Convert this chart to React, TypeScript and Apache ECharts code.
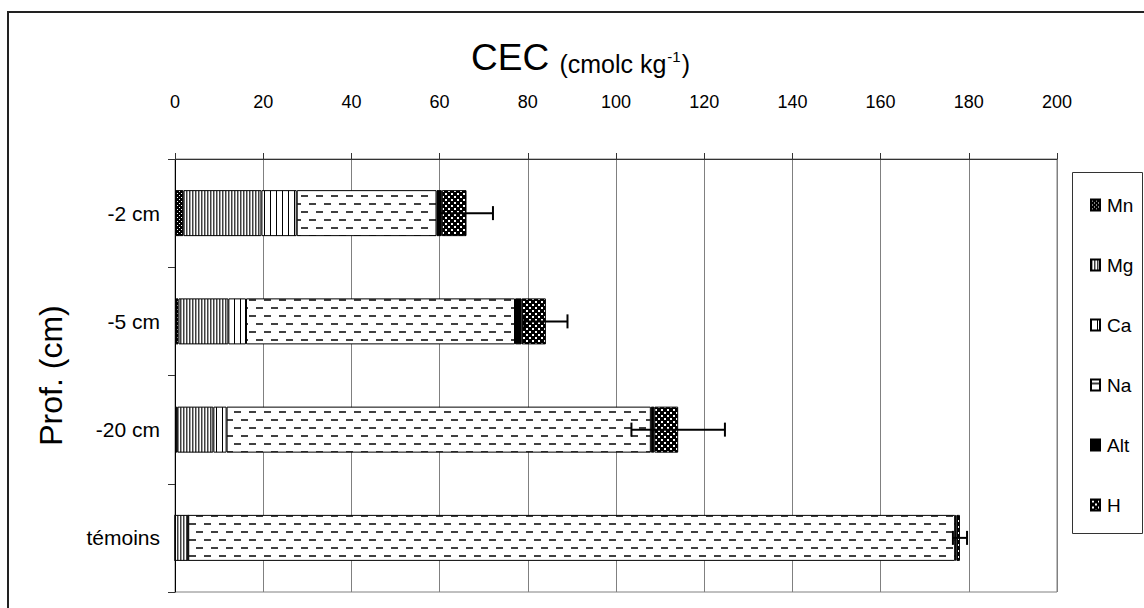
import React, { useEffect, useRef } from 'react';
import * as echarts from 'echarts';

const categories = ['-2 cm', '-5 cm', '-20 cm', 'témoins'];
const seriesNames = ['Mn', 'Mg', 'Ca', 'Na', 'Alt', 'H'];
const mnValues = [1.9, 0.8, 0.5, 0];
const mgValues = [17.7, 11.3, 8.2, 3.0];
const caValues = [8.0, 4.0, 3.0, 0];
const naValues = [31.7, 61.0, 96.2, 173.9];
const altValues = [1.2, 1.5, 0.8, 0.3];
const hValues = [5.6, 5.5, 5.4, 0.8];
const errValues = [6.0, 4.9, 10.6, 1.6];
const xMin = 0;
const xMax = 200;
const xInterval = 20;

const FONT = "'Liberation Sans', Arial, sans-serif";

function makePattern(w: number, h: number, draw: (ctx: CanvasRenderingContext2D) => void) {
  const c = document.createElement('canvas');
  c.width = w;
  c.height = h;
  const ctx = c.getContext('2d') as CanvasRenderingContext2D;
  draw(ctx);
  return { image: c.toDataURL(), repeat: 'repeat', imageWidth: w, imageHeight: h } as any;
}

export default function App() {
  const ref = useRef<HTMLDivElement>(null);

  useEffect(() => {
    if (!ref.current) return;
    const chart = echarts.init(ref.current, undefined, { renderer: 'svg' });

    const mnPat = makePattern(4, 4, (ctx) => {
      ctx.fillStyle = '#000';
      ctx.fillRect(0, 0, 4, 4);
      ctx.fillStyle = '#fff';
      ctx.fillRect(1, 1, 1, 1);
      ctx.fillRect(3, 3, 1, 1);
    });
    const mgPat = makePattern(3, 2, (ctx) => {
      ctx.fillStyle = '#404040';
      ctx.fillRect(0, 0, 1, 2);
      ctx.fillStyle = '#a0a0a0';
      ctx.fillRect(1, 0, 1, 2);
      ctx.fillStyle = '#fff';
      ctx.fillRect(2, 0, 1, 2);
    });
    const caPat = makePattern(6, 2, (ctx) => {
      ctx.fillStyle = '#fff';
      ctx.fillRect(0, 0, 6, 2);
      ctx.fillStyle = '#000';
      ctx.fillRect(0, 0, 1, 2);
    });
    const naPat = makePattern(15, 16, (ctx) => {
      ctx.fillStyle = '#fff';
      ctx.fillRect(0, 0, 15, 16);
      ctx.fillStyle = '#404040';
      ctx.fillRect(1, 3, 7, 2);
      ctx.fillRect(9, 11, 6, 2);
      ctx.fillRect(0, 11, 1, 2);
    });
    const hPat = makePattern(6, 6, (ctx) => {
      ctx.fillStyle = '#000';
      ctx.fillRect(0, 0, 6, 6);
      ctx.fillStyle = '#fff';
      ctx.fillRect(1, 1, 2, 2);
      ctx.fillRect(4, 4, 2, 2);
    });

    const colors = [mnPat, mgPat, caPat, naPat, '#000', hPat];
    const valueSets = [mnValues, mgValues, caValues, naValues, altValues, hValues];

    const totals = categories.map((_, i) => valueSets.reduce((s, arr) => s + arr[i], 0));
    const errData = categories.map((_, i) => [i, totals[i] - errValues[i], totals[i] + errValues[i]]);

    const barSeries = seriesNames.map((name, k) => ({
      name,
      type: 'bar',
      stack: 'cec',
      barWidth: 46,
      data: valueSets[k],
      itemStyle: { color: colors[k], borderColor: '#000', borderWidth: 1 },
      emphasis: { disabled: true },
    }));

    chart.setOption({
      animation: false,
      backgroundColor: '#fff',
      title: {
        left: 471,
        top: 36,
        padding: 0,
        text: '{a|CEC }{b|(cmolc kg}{s|-1}{b|)}',
        textStyle: {
          fontWeight: 'normal',
          rich: {
            a: { fontFamily: FONT, fontSize: 37, fontWeight: 'normal', color: '#000', lineHeight: 40, verticalAlign: 'bottom' },
            b: { fontFamily: FONT, fontSize: 25, fontWeight: 'normal', color: '#000', lineHeight: 31, verticalAlign: 'bottom' },
            s: { fontFamily: FONT, fontSize: 15, fontWeight: 'normal', color: '#000', lineHeight: 40, verticalAlign: 'middle', padding: [0, 1, 0, 1] },
          },
        },
      },
      legend: {
        data: seriesNames,
        orient: 'vertical',
        left: 1090,
        top: 195,
        padding: 0,
        itemWidth: 9,
        itemHeight: 11,
        itemGap: 40,
        icon: 'rect',
        selectedMode: false,
        textStyle: { fontFamily: FONT, fontSize: 19, lineHeight: 20, color: '#000', padding: [0, 0, 0, 2] },
      },
      grid: {
        left: 175,
        right: 87,
        top: 159,
        bottom: 16,
        show: true,
        borderColor: '#808080',
        borderWidth: 1,
      },
      xAxis: {
        type: 'value',
        position: 'top',
        min: xMin,
        max: xMax,
        interval: xInterval,
        axisLine: { show: true, lineStyle: { color: '#333', width: 1 } },
        axisTick: { show: true, inside: false, length: 6, lineStyle: { color: '#333' } },
        axisLabel: { fontFamily: FONT, fontSize: 18, color: '#000', margin: 48 },
        splitLine: { show: true, lineStyle: { color: '#808080', width: 1 } },
      },
      yAxis: {
        type: 'category',
        data: categories,
        inverse: true,
        boundaryGap: true,
        name: 'Prof. (cm)',
        nameLocation: 'middle',
        nameRotate: 90,
        nameGap: 108,
        nameTextStyle: { fontFamily: FONT, fontSize: 32, color: '#000' },
        axisLine: { show: true, lineStyle: { color: '#000', width: 1 } },
        axisTick: { show: true, inside: false, length: 7, lineStyle: { color: '#333' } },
        axisLabel: { fontFamily: FONT, fontSize: 21, color: '#000', margin: 15 },
        splitLine: { show: false },
      },
      graphic: [
        {
          type: 'rect',
          shape: { x: 8, y: 12, width: 1150, height: 620 },
          style: { fill: 'none', stroke: '#222', lineWidth: 2 },
          silent: true,
          z: 100,
        },
        {
          type: 'rect',
          shape: { x: 1072.5, y: 172.5, width: 70, height: 361 },
          style: { fill: 'none', stroke: '#333', lineWidth: 1 },
          silent: true,
          z: 100,
        },
      ],
      series: [
        ...barSeries,
        {
          type: 'custom',
          name: 'err',
          z: 10,
          data: errData,
          encode: { x: [1, 2], y: 0 },
          renderItem: (params: any, api: any) => {
            const cat = api.value(0);
            const lo = api.coord([api.value(1), cat]);
            const hi = api.coord([api.value(2), cat]);
            const cap = 7;
            const style = { stroke: '#000', lineWidth: 2 };
            return {
              type: 'group',
              children: [
                { type: 'line', shape: { x1: lo[0], y1: lo[1], x2: hi[0], y2: hi[1] }, style },
                { type: 'line', shape: { x1: lo[0], y1: lo[1] - cap, x2: lo[0], y2: lo[1] + cap }, style },
                { type: 'line', shape: { x1: hi[0], y1: hi[1] - cap, x2: hi[0], y2: hi[1] + cap }, style },
              ],
            };
          },
        },
      ],
    });

    return () => chart.dispose();
  }, []);

  return (
    <div
      ref={ref}
      style={{ position: 'absolute', left: 0, top: 0, width: 1144, height: 608, background: '#fff' }}
    />
  );
}
